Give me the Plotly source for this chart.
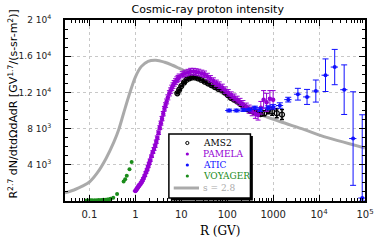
import plotly.graph_objects as go

# ---------------- data ----------------
gray_r = [0.0294, 0.05, 0.07, 0.1, 0.148, 0.23, 0.34, 0.435, 0.555, 0.71, 1.0, 1.34, 1.89, 2.8,
          4.35, 6.4, 8.2, 13.4, 19.9, 100, 528, 1400, 4800, 11000, 100000]
gray_v = [890, 1300, 1650, 2100, 3100, 4700, 6500, 7900, 9700, 11500, 13700, 14850, 15440, 15560,
          15330, 15000, 14750, 14220, 13670, 11600, 9560, 8780, 7890, 7220, 5850]

ams_r = [8.2, 9, 10, 11.5, 13, 15, 17, 20, 23, 27, 32, 38, 45, 54, 64, 75, 88, 103, 120, 140,
         165, 195, 230, 270, 320, 380, 450, 530, 640, 770, 950, 1200, 1560]
ams_v = [11900, 12300, 12700, 13100, 13400, 13550, 13650, 13650, 13550, 13400, 13200, 13000,
         12800, 12600, 12400, 12300, 12000, 11700, 11400, 11200, 11000, 10700, 10400, 10150,
         9950, 9850, 9700, 9600, 9700, 10000, 9900, 9700, 9550]
ams_err = [80, 80, 80, 80, 80, 80, 80, 80, 80, 80, 80, 80, 80, 80, 90, 90, 100, 100, 100, 110,
           110, 120, 130, 140, 150, 170, 200, 230, 280, 350, 420, 500, 550]

pam_r = [1.0, 1.05, 1.1, 1.15, 1.2, 1.27, 1.35, 1.42, 1.5, 1.6, 1.7, 1.8, 1.9, 2.0, 2.1, 2.25,
         2.4, 2.55, 2.7, 2.85, 3.0, 3.2, 3.4, 3.6, 3.8, 4.05, 4.3, 4.55, 4.8, 5.1, 5.5, 5.85,
         6.2, 6.6, 7.0, 7.5, 8.0, 8.5, 9.0, 10.5, 12, 14, 16, 18.5, 21, 24, 28, 32, 37, 43,
         50, 58, 67, 78, 90, 105, 122, 142, 165, 190, 220, 260, 300, 350, 410, 470, 540, 620,
         720, 850, 1000]
pam_v = [1100, 1250, 1400, 1550, 1700, 1850, 2050, 2250, 2500, 2800, 3150, 3450, 3800, 4150,
         4500, 4950, 5400, 5750, 6100, 6550, 7000, 7550, 8100, 8600, 9100, 9650, 10200, 10600,
         11000, 11450, 11900, 12200, 12500, 12750, 13000, 13200, 13400, 13550, 13700, 13950,
         14100, 14200, 14300, 14300, 14250, 14200, 14100, 14000, 13750, 13500, 13250, 13000,
         12800, 12550, 12250, 11950, 11700, 11450, 11200, 10950, 10700, 10400, 10150, 9900,
         9650, 9500, 10300, 11200, 10900, 11300, 11200]
pam_err = [40, 45, 50, 55, 60, 65, 70, 75, 80, 90, 100, 105, 110, 120, 130, 140, 150, 160, 170,
           180, 190, 200, 210, 220, 230, 240, 250, 260, 270, 280, 290, 295, 300, 305, 310, 315,
           320, 325, 330, 340, 350, 350, 360, 360, 360, 360, 360, 360, 360, 360, 360, 360, 360,
           360, 360, 360, 360, 370, 380, 390, 400, 420, 450, 480, 520, 560, 700, 1000, 1000,
           900, 1000]

atic_r = [110, 160, 225, 300, 400, 520, 780, 1000, 1400, 2130, 3460, 5470, 8500, 13800, 21900,
          35200, 55000, 87000]
atic_v = [10000, 10000, 10050, 10100, 10300, 10100, 10300, 10400, 10550, 11200, 11800, 11500,
          12150, 13900, 14800, 12300, 6900, 330]
atic_err_plus = [150, 150, 150, 150, 180, 200, 220, 250, 300, 260, 650, 830, 1220, 1800, 1950,
                 2740, 5170, 9200]
atic_err_minus = [150, 150, 150, 150, 180, 200, 220, 250, 300, 260, 650, 830, 1220, 1800, 1950,
                  2740, 5170, 330]

voy_r = [0.085, 0.095, 0.105, 0.115, 0.13, 0.145, 0.16, 0.18, 0.2, 0.22, 0.245, 0.27, 0.29,
         0.33, 0.40, 0.555, 0.60, 0.65, 0.745, 0.83]
voy_v = [60, 65, 70, 75, 85, 95, 105, 120, 135, 150, 170, 200, 250, 370, 780, 2150, 2400,
         2780, 3520, 4300]

x_tickvals = [0.1, 1, 10, 100, 1000, 1e4, 1e5]
x_ticktext = ["0.1", "1", "10", "100", "1000", "10<sup>4</sup>", "10<sup>5</sup>"]
y_tickvals = [4000, 8000, 12000, 16000, 20000]
y_ticktext = ["4 10<sup>3</sup>", "8 10<sup>3</sup>", "1.2 10<sup>4</sup>",
              "1.6 10<sup>4</sup>", "2 10<sup>4</sup>"]

legend_names = ["AMS2", "PAMELA", "ATIC", "VOYAGER", "s = 2.8"]

# ---------------- styles ----------------
C_AMS, C_PAM, C_ATIC, C_VOY, C_GRAY = "#000000", "#9400d3", "#1010ff", "#1a8c1a", "#aaaaaa"
SANS = "DejaVu Sans"
SERIF = "DejaVu Serif"

fig = go.Figure()
fig.add_trace(go.Scatter(x=gray_r, y=gray_v, mode="lines", name=legend_names[4],
                         line=dict(color=C_GRAY, width=3, shape="spline", smoothing=0.9)))
fig.add_trace(go.Scatter(x=ams_r, y=ams_v, mode="markers", name=legend_names[0],
                         marker=dict(symbol="circle-open", size=5, color=C_AMS, line=dict(width=1.2)),
                         error_y=dict(type="data", array=ams_err, color=C_AMS, thickness=1.5, width=2)))
fig.add_trace(go.Scatter(x=pam_r, y=pam_v, mode="markers", name=legend_names[1],
                         marker=dict(symbol="circle", size=4.5, color=C_PAM),
                         error_y=dict(type="data", array=pam_err, color=C_PAM, thickness=1, width=2.5)))
fig.add_trace(go.Scatter(x=atic_r, y=atic_v, mode="markers", name=legend_names[2],
                         marker=dict(symbol="circle", size=4, color=C_ATIC),
                         error_y=dict(type="data", symmetric=False, array=atic_err_plus,
                                      arrayminus=atic_err_minus, color=C_ATIC, thickness=1, width=3),
                         error_x=dict(type="percent", value=18, color=C_ATIC, thickness=1, width=0)))
fig.add_trace(go.Scatter(x=voy_r, y=voy_v, mode="markers", name=legend_names[3],
                         marker=dict(symbol="circle", size=4, color=C_VOY)))

# ---------------- manual legend (compact, like the reference) ----------------
L, T, W, H = 65, 20, 309, 181


def px(xp):
    return (xp - L) / W


def py(yp):
    return (T + H - yp) / H


shapes = []
# shadow + box
shapes.append(dict(type="rect", xref="paper", yref="paper", x0=px(174), x1=px(258.5),
                   y0=py(200.5), y1=py(136), fillcolor="black", line=dict(width=0), layer="above"))
shapes.append(dict(type="rect", xref="paper", yref="paper", x0=px(172), x1=px(256),
                   y0=py(198), y1=py(134), fillcolor="white", line=dict(color="black", width=1.5),
                   layer="above"))
rows = [143, 154, 165, 176, 188]
marker_cols = [C_AMS, C_PAM, C_ATIC, C_VOY]
for i, c in enumerate(marker_cols):
    shapes.append(dict(type="circle", xref="paper", yref="paper", xsizemode="pixel", ysizemode="pixel",
                       xanchor=px(191), yanchor=py(rows[i]), x0=-1.6, x1=1.6, y0=-1.6, y1=1.6,
                       fillcolor=("rgba(0,0,0,0)" if i == 0 else c),
                       line=dict(color=c, width=1 if i == 0 else 0), layer="above"))
shapes.append(dict(type="line", xref="paper", yref="paper", x0=px(177), x1=px(203),
                   y0=py(rows[4]), y1=py(rows[4]), line=dict(color=C_GRAY, width=3), layer="above"))

annotations = []
text_cols = [C_AMS, C_PAM, C_ATIC, C_VOY, C_GRAY]
for i, name in enumerate(legend_names):
    annotations.append(dict(text=name, xref="paper", yref="paper", x=px(205), y=py(rows[i]),
                            xanchor="left", yanchor="middle", showarrow=False,
                            font=dict(family=SERIF, size=9, color=text_cols[i])))
# axis titles
annotations.append(dict(text="R<sup>2.7</sup> dN/dtdΩdAdR [GV<sup>1.7</sup>/(s-sr-m<sup>2</sup>)]",
                        xref="paper", yref="paper", x=px(11), y=py(104), textangle=-90,
                        xanchor="center", yanchor="middle", showarrow=False,
                        font=dict(family=SANS, size=11, color="black")))
annotations.append(dict(text="R (GV)", xref="paper", yref="paper", x=px(225), y=py(231),
                        xanchor="center", yanchor="middle", showarrow=False,
                        font=dict(family=SERIF, size=12, color="black")))

x_minor = [m * 10.0 ** e for e in range(-2, 5) for m in range(2, 10)]

fig.update_layout(
    width=382, height=240,
    margin=dict(l=L, r=382 - L - W, t=T, b=240 - T - H),
    paper_bgcolor="white", plot_bgcolor="white",
    showlegend=False,
    title=dict(text="Cosmic-ray proton intensity", x=px(212), xref="paper", xanchor="center",
               y=1 - 9 / 240, yref="container", yanchor="middle",
               font=dict(family=SANS, size=11, color="black")),
    shapes=shapes, annotations=annotations,
    xaxis=dict(type="log", range=[-1.532, 5.0], tickmode="array", tickvals=x_tickvals,
               ticktext=x_ticktext, ticks="inside", ticklen=6, tickwidth=1, tickcolor="black",
               showline=True, linecolor="black", linewidth=2, mirror="allticks",
               showgrid=True, gridcolor="#c8c8c8", griddash="dot", gridwidth=1,
               zeroline=False, ticklabelstandoff=3,
               tickfont=dict(family=SANS, size=10, color="#222"),
               minor=dict(tickmode="array", tickvals=x_minor, ticks="inside", ticklen=3,
                          tickcolor="black", showgrid=False)),
    yaxis=dict(range=[0, 20000], tickmode="array", tickvals=y_tickvals, ticktext=y_ticktext,
               ticks="inside", ticklen=6, tickwidth=1, tickcolor="black",
               showline=True, linecolor="black", linewidth=2, mirror="allticks",
               showgrid=True, gridcolor="#c8c8c8", griddash="dot", gridwidth=1,
               zeroline=False, ticklabelstandoff=10,
               tickfont=dict(family=SANS, size=9, color="#222"),
               minor=dict(dtick=1000, ticks="inside", ticklen=3, tickcolor="black", showgrid=False)),
)

fig.write_html("out.html", config={"displayModeBar": False},
               post_script="document.body.style.margin='0';")
